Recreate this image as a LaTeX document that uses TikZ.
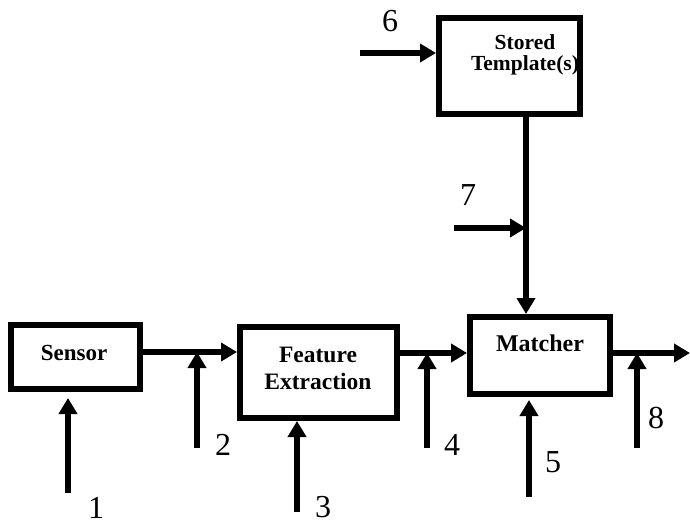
\documentclass[tikz,border=0pt]{standalone}
\usepackage{fontspec}
\setmainfont{Liberation Serif}
\usetikzlibrary{arrows.meta,calc}
\begin{document}
\begin{tikzpicture}[x=1pt,y=-1pt,
  blk/.style={draw,line width=6pt,rectangle,inner sep=0pt},
  boxtxt/.style={font=\bfseries\fontsize{23}{25}\selectfont,align=center,inner sep=0pt},
  num/.style={font=\fontsize{32}{32}\selectfont,inner sep=0pt,anchor=base,text depth=0pt},
  arr/.style={line width=6pt,-{Triangle[length=16pt,width=18pt]}},
  ln/.style={line width=6pt}]
\useasboundingbox (0,0) rectangle (690,524);
% boxes
\node[blk,minimum width=141pt,minimum height=96pt] (stored) at (509.5,66) {};
\node[blk,minimum width=129pt,minimum height=64pt] (sensor) at (75.5,357) {};
\node[blk,minimum width=157pt,minimum height=91pt] (fe) at (318.5,372.5) {};
\node[blk,minimum width=140pt,minimum height=77pt] (matcher) at (540,355.5) {};
% box texts
\node[boxtxt,font=\bfseries\fontsize{21.5}{21.5}\selectfont] (storedtxt) at (525,55) {Stored\\[-1pt]Template(s)};
\node[boxtxt] (sensortxt) at (74,353) {Sensor};
\node[boxtxt,font=\bfseries\fontsize{23.5}{27}\selectfont] (fetxt) at (318,368) {Feature\\Extraction};
\node[boxtxt,font=\bfseries\fontsize{24}{25}\selectfont] (matchertxt) at (540,343) {Matcher};
% junction and free-end coordinates
\coordinate (j2) at (197,352);
\coordinate (j4) at (427,353);
\coordinate (j8) at (637,353);
\coordinate (j7) at (526,228);
\coordinate (out) at (690,353);
\coordinate (s1) at (68,493);
\coordinate (s2) at (197,448);
\coordinate (s3) at (297,512);
\coordinate (s4) at (427,448);
\coordinate (s5) at (529,497);
\coordinate (s6) at (360,53);
\coordinate (s7) at (454,228);
\coordinate (s8) at (637,448);
% main flow
\draw[arr] (sensor.east |- j2) -- (fe.west |- j2);
\draw[arr] (fe.east |- j4) -- (matcher.west |- j4);
\draw[arr] (matcher.east |- j8) -- (out);
\draw[arr] (stored.south -| j7) -- (matcher.north -| j7);
% numbered inputs
\draw[arr,shorten >=6pt] (s1) -- (sensor.south -| s1);
\draw[arr] (s2) -- (j2);
\draw[arr] (s3) -- (fe.south -| s3);
\draw[arr] (s4) -- (j4);
\draw[arr,shorten >=3pt] (s5) -- (matcher.south -| s5);
\draw[arr] (s6) -- (stored.west |- s6);
\draw[arr] (s7) -- (j7);
\draw[arr] (s8) -- (j8);
% numbers
\node[num] (n1) at (96,518) {1};
\node[num] (n2) at (223,455) {2};
\node[num] (n3) at (323,517) {3};
\node[num] (n4) at (452,455) {4};
\node[num] (n5) at (553,472) {5};
\node[num] (n6) at (390,32) {6};
\node[num] (n7) at (468,205) {7};
\node[num] (n8) at (656,428) {8};
\end{tikzpicture}
\end{document}
